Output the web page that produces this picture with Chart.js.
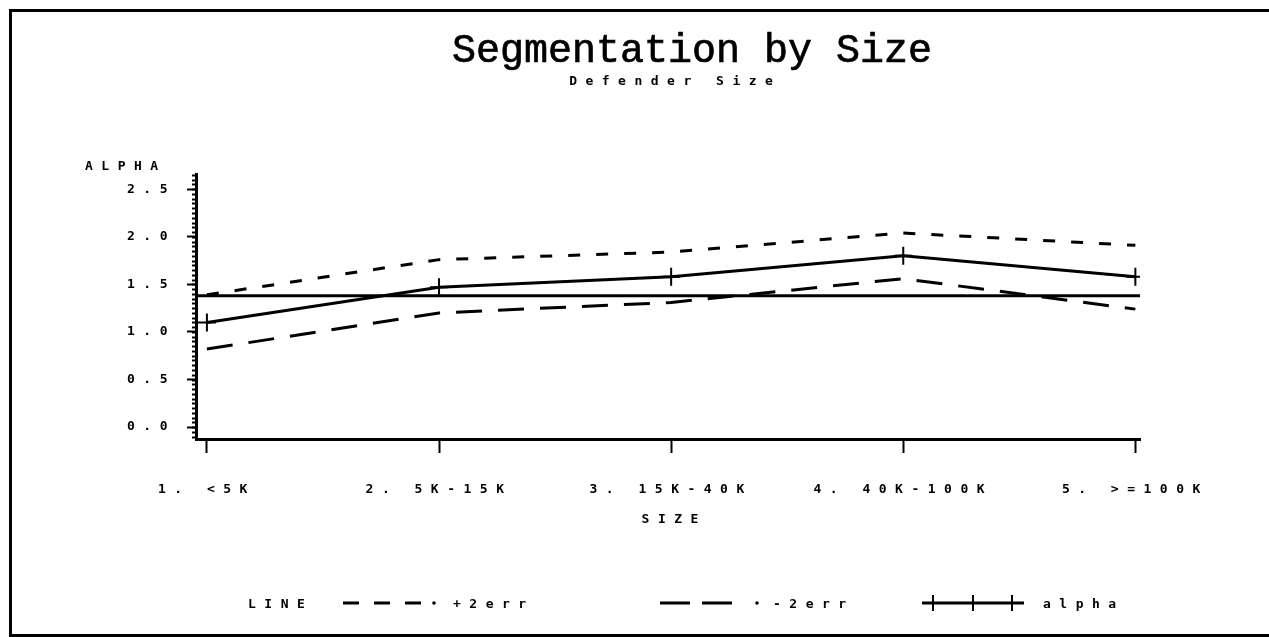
<!DOCTYPE html>
<html>
<head>
<meta charset="utf-8">
<script src="https://cdn.jsdelivr.net/npm/chart.js@4"></script>
<style>
  body { margin: 0; background: #fff; width: 1269px; height: 637px; overflow: hidden; position: relative; }
  #frame { position: absolute; left: 9px; top: 9px; width: 1270px; height: 622px; border-top: 3px solid #000; border-left: 3px solid #000; border-bottom: 3px solid #000; }
  canvas { position: absolute; left: 0; top: 0; }
  .txt { position: absolute; font-family: "DejaVu Sans Mono", monospace; font-weight: bold; font-size: 13px; letter-spacing: 8.5px; white-space: nowrap; line-height: 15px; color: #000; }
  .mid { transform: translate(-50%, -50%); padding-left: 8.5px; }
  .lft { transform: translateY(-50%); }
  #title { position: absolute; left: 692px; top: 32px; transform: translateX(-50%); font-family: "Liberation Mono", monospace; font-size: 40px; line-height: 40px; white-space: nowrap; color: #000; -webkit-text-stroke: 0.7px #000; }
  svg { position: absolute; }
</style>
</head>
<body>
<div id="frame"></div>
<canvas id="chart" width="1269" height="637"></canvas>

<div id="title">Segmentation by Size</div>
<div class="txt mid" style="left:671px; top:80px;">Defender Size</div>
<div class="txt lft" style="left:85px; top:165px;">ALPHA</div>
<div class="txt mid" style="left:670px; top:518px;">SIZE</div>

<!-- legend -->
<div class="txt lft" style="left:248px; top:603px;">LINE</div>
<svg style="left:343px; top:595px;" width="100" height="16">
  <line x1="0" y1="8" x2="78" y2="8" stroke="#000" stroke-width="3" stroke-dasharray="16 15"/>
  <circle cx="91" cy="8" r="1.8" fill="#000"/>
</svg>
<div class="txt lft" style="left:453px; top:603px;">+2err</div>
<svg style="left:660px; top:595px;" width="105" height="16">
  <line x1="0" y1="8" x2="72" y2="8" stroke="#000" stroke-width="3" stroke-dasharray="30 12"/>
  <circle cx="97" cy="8" r="1.8" fill="#000"/>
</svg>
<div class="txt lft" style="left:773px; top:603px;">-2err</div>
<svg style="left:922px; top:593px;" width="104" height="20">
  <line x1="0" y1="10" x2="102" y2="10" stroke="#000" stroke-width="3"/>
  <line x1="11" y1="2" x2="11" y2="18" stroke="#000" stroke-width="2"/>
  <line x1="51" y1="2" x2="51" y2="18" stroke="#000" stroke-width="2"/>
  <line x1="90" y1="2" x2="90" y2="18" stroke="#000" stroke-width="2"/>
</svg>
<div class="txt lft" style="left:1043px; top:603px;">alpha</div>

<script>
// categories on the x axis (drawn at positions 1..5)
const categories = ['1. <5K', '2. 5K-15K', '3. 15K-40K', '4. 40K-100K', '5. >=100K'];
const catPos = [1, 2, 3, 4, 5];

// series values
const alpha = [1.10, 1.47, 1.58, 1.80, 1.58];
const plus2err = [1.39, 1.76, 1.84, 2.04, 1.91];
const minus2err = [0.82, 1.20, 1.31, 1.56, 1.24];
const refLevel = 1.38;

// axes
const yTicks = [0, 0.5, 1.0, 1.5, 2.0, 2.5];
const yMin = -0.125, yMax = 2.66;
const xMin = 0.953, xMax = 5.02;
const minorStep = 0.05;

const toPoints = vals => catPos.map((x, i) => ({ x: x, y: vals[i] }));

// little ticks between the labelled ones on the y axis
const minorTicks = {
    id: 'minorTicks',
    afterDraw(chart) {
        const ctx = chart.ctx;
        const y = chart.scales.y;
        const left = chart.chartArea.left;
        ctx.save();
        ctx.strokeStyle = '#000';
        ctx.lineWidth = 2;
        const n = Math.floor((yMax - yMin) / minorStep);
        const start = Math.ceil(yMin / minorStep);
        for (let k = start; k <= start + n; k++) {
            const py = Math.round(y.getPixelForValue(k * minorStep)) + 0.5;
            if (py < chart.chartArea.top || py > chart.chartArea.bottom) continue;
            ctx.beginPath();
            ctx.moveTo(left - 4, py);
            ctx.lineTo(left, py);
            ctx.stroke();
        }
        ctx.restore();
    }
};

// spaced-out lettering like the old plotter
const spacing = {
    id: 'spacing',
    beforeDraw(chart) {
        chart.ctx.letterSpacing = '8.5px';
    }
};

const chart = document.querySelector('#chart').getContext('2d');

new Chart(chart, {
    type: 'line',
    data: {
        datasets: [
            {
                label: 'ref',
                data: [{ x: xMin, y: refLevel }, { x: xMax, y: refLevel }],
                borderColor: '#000',
                borderWidth: 3,
                pointRadius: 0
            },
            {
                label: '+2err',
                data: toPoints(plus2err),
                borderColor: '#000',
                borderWidth: 3,
                borderDash: [12, 16],
                pointRadius: 0
            },
            {
                label: '-2err',
                data: toPoints(minus2err),
                borderColor: '#000',
                borderWidth: 3,
                borderDash: [26, 16],
                pointRadius: 0
            },
            {
                label: 'alpha',
                data: toPoints(alpha),
                borderColor: '#000',
                borderWidth: 3,
                pointStyle: 'cross',
                pointRadius: 9,
                pointBorderWidth: 2,
                pointBorderColor: '#000'
            }
        ]
    },
    options: {
        responsive: false,
        animation: false,
        events: [],
        layout: { padding: { top: 174, right: 129, bottom: 0, left: 0 } },
        elements: { line: { tension: 0 } },
        plugins: {
            legend: { display: false },
            tooltip: { enabled: false }
        },
        scales: {
            x: {
                type: 'linear',
                min: xMin,
                max: xMax,
                afterBuildTicks: s => { s.ticks = catPos.map(v => ({ value: v })); },
                afterFit: s => { s.height = 198; },
                border: { color: '#000', width: 3 },
                grid: { drawOnChartArea: false, tickLength: 14, tickColor: '#000', tickWidth: 2 },
                ticks: {
                    callback: (v, i) => categories[i],
                    color: '#000',
                    font: { family: 'DejaVu Sans Mono', size: 13, weight: 'bold' },
                    padding: 29,
                    maxRotation: 0,
                    autoSkip: false
                }
            },
            y: {
                min: yMin,
                max: yMax,
                afterBuildTicks: s => { s.ticks = yTicks.map(v => ({ value: v })); },
                afterFit: s => { s.width = 196; },
                border: { color: '#000', width: 3 },
                grid: { drawOnChartArea: false, tickLength: 9, tickColor: '#000', tickWidth: 2 },
                ticks: {
                    callback: v => v.toFixed(1),
                    color: '#000',
                    font: { family: 'DejaVu Sans Mono', size: 13, weight: 'bold' },
                    padding: 11
                }
            }
        }
    },
    plugins: [minorTicks, spacing]
});
</script>
</body>
</html>
